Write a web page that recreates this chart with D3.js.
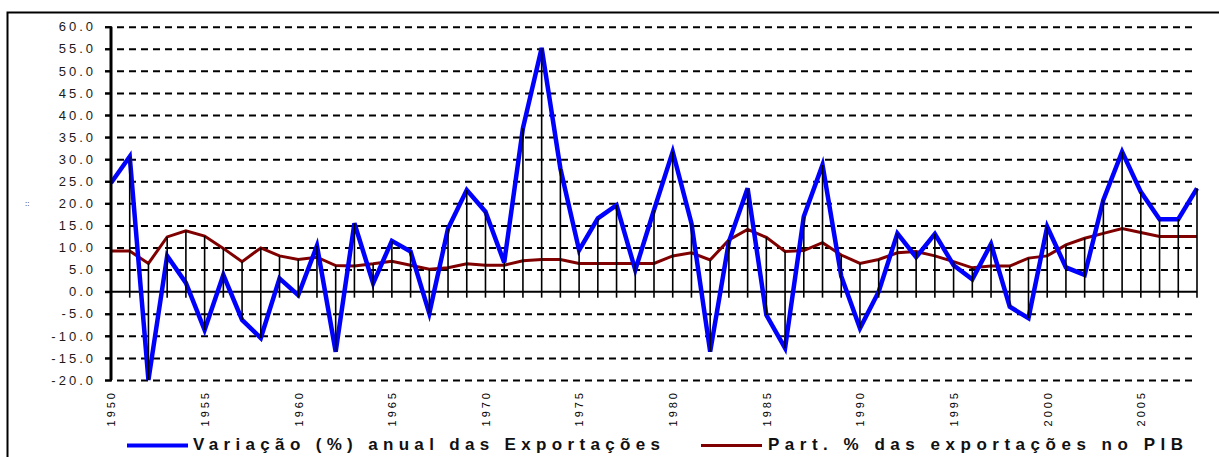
<!DOCTYPE html>
<html><head><meta charset="utf-8">
<script src="https://cdn.jsdelivr.net/npm/d3@7"></script>
<style>
body{margin:0;background:#fff;}
svg{display:block;font-family:"Liberation Sans",Arial,sans-serif;}
</style></head>
<body>
<svg id="c" width="1219" height="457"></svg>
<script>
const years = d3.range(1950, 2009);
const exportVariation = [24.6,30.6,-20.0,8.1,2.0,-8.7,3.8,-6.4,-10.5,3.0,
  -0.8,10.4,-13.6,15.5,1.9,11.5,9.1,-4.9,14.3,23.0,
  18.1,6.6,37.0,55.2,27.9,9.4,16.6,19.6,4.9,18.5,
  31.7,15.5,-13.6,11.3,23.4,-5.3,-12.8,17.0,28.7,3.5,
  -8.3,0.0,13.2,7.8,13.1,6.0,2.8,10.8,-3.4,-6.0,
  14.7,5.5,3.8,20.8,31.7,22.6,16.4,16.4,23.4];
const exportShareGDP = [9.2,9.2,6.4,12.4,13.8,12.6,9.8,6.8,9.9,8.1,
  7.3,7.8,5.9,5.8,6.3,6.9,6.0,5.1,5.4,6.3,
  6.0,6.0,7.0,7.3,7.3,6.4,6.4,6.4,6.4,6.4,
  8.1,8.8,7.2,11.7,14.1,12.3,9.1,9.3,11.1,8.3,
  6.4,7.3,8.8,9.1,8.1,6.8,5.4,5.8,5.8,7.6,
  8.1,10.6,12.1,13.2,14.3,13.4,12.5,12.5,12.5];
const yTicks = d3.range(-20, 61, 5);
const xTickYears = d3.range(1950, 2006, 5);
const seriesNames = ["Variação (%) anual das Exportações", "Part. % das exportações no PIB"];
const seriesColors = ["#0000ff", "#800000"];

const svg = d3.select("#c");
svg.append("rect").attr("width",1219).attr("height",457).attr("fill","#fff");
// outer frame
svg.append("rect").attr("x",7.5).attr("y",12.5).attr("width",1400).attr("height",600)
  .attr("fill","none").attr("stroke","#000").attr("stroke-width",2);

const x = d3.scaleLinear().domain([1950, 2008]).range([111, 1197]);
const y = d3.scaleLinear().domain([-20, 60]).range([380, 26.7]);

// gridlines
const grid = svg.append("g").attr("transform","translate(105,0)")
  .call(d3.axisLeft(y).tickValues(yTicks.filter(d=>d!==0)).tickSize(-(1197-105)).tickFormat(""));
grid.select(".domain").remove();
grid.selectAll("line").attr("stroke","#000").attr("stroke-width",2).attr("stroke-dasharray","7,5");

// zero line
svg.append("line").attr("x1",105).attr("x2",1197).attr("y1",y(0)).attr("y2",y(0))
  .attr("stroke","#000").attr("stroke-width",2);

// series lines
const line = d3.line().x((d,i)=>x(years[i])).y(d=>y(d));
svg.append("path").datum(exportShareGDP).attr("d",line).attr("fill","none")
  .attr("stroke",seriesColors[1]).attr("stroke-width",3).attr("stroke-linejoin","miter");
svg.append("path").datum(exportVariation).attr("d",line).attr("fill","none")
  .attr("stroke",seriesColors[0]).attr("stroke-width",4.5).attr("stroke-linejoin","miter");

// drop lines
const drops = svg.append("g").attr("stroke","#000").attr("stroke-width",1.6);
years.forEach((yr,i)=>{
  const vals=[0,exportVariation[i],exportShareGDP[i]];
  const lo=d3.min(vals), hi=d3.max(vals);
  drops.append("line").attr("x1",x(yr)).attr("x2",x(yr))
    .attr("y1",y(hi)).attr("y2",Math.max(y(lo), y(0)+6));
});

// y axis
const ya = svg.append("g").attr("transform","translate(111,0)")
  .call(d3.axisLeft(y).tickValues(yTicks).tickSize(6).tickPadding(0).tickFormat(d=>d.toFixed(1)));
ya.select(".domain").attr("stroke","#000").attr("stroke-width",3).attr("d",`M0,${y(60)}V${y(-20)}`);
ya.selectAll(".tick line").attr("stroke","#000").attr("stroke-width",2);
ya.selectAll(".tick text").attr("x",-15).attr("font-size",13).attr("letter-spacing","3px")
  .attr("fill","#1a1a1a").attr("font-family","'Liberation Sans',Arial,sans-serif");

// x axis labels
const xa = svg.append("g").attr("transform",`translate(0,${y(-20)})`)
  .call(d3.axisBottom(x).tickValues(xTickYears).tickSize(0).tickFormat(d3.format("d")));
xa.select(".domain").remove();
xa.selectAll(".tick text").attr("transform","translate(0,10) rotate(-90)")
  .attr("text-anchor","end").attr("dy","0.35em").attr("y",0).attr("x",0)
  .attr("font-size",11).attr("letter-spacing","3px").attr("fill","#000")
  .attr("font-family","'Liberation Sans',Arial,sans-serif");

// small axis title mark
svg.append("text").attr("x",25).attr("y",206).attr("font-size",8).attr("fill","#000").text("::");

// legend
const leg = svg.append("g");
const legItems = [{x0:127,x1:188,tx:193,tw:467,w:4},{x0:701,x1:762,tx:768,tw:415,w:3}];
legItems.forEach((it,i)=>{
  leg.append("line").attr("x1",it.x0).attr("x2",it.x1).attr("y1",445.5).attr("y2",445.5)
    .attr("stroke",seriesColors[i]).attr("stroke-width",it.w);
  leg.append("text").attr("x",it.tx).attr("y",450).attr("font-size",17).attr("font-weight","bold")
    .attr("fill","#111").attr("textLength",it.tw).attr("lengthAdjust","spacing").text(seriesNames[i]);
});
</script>
</body></html>
